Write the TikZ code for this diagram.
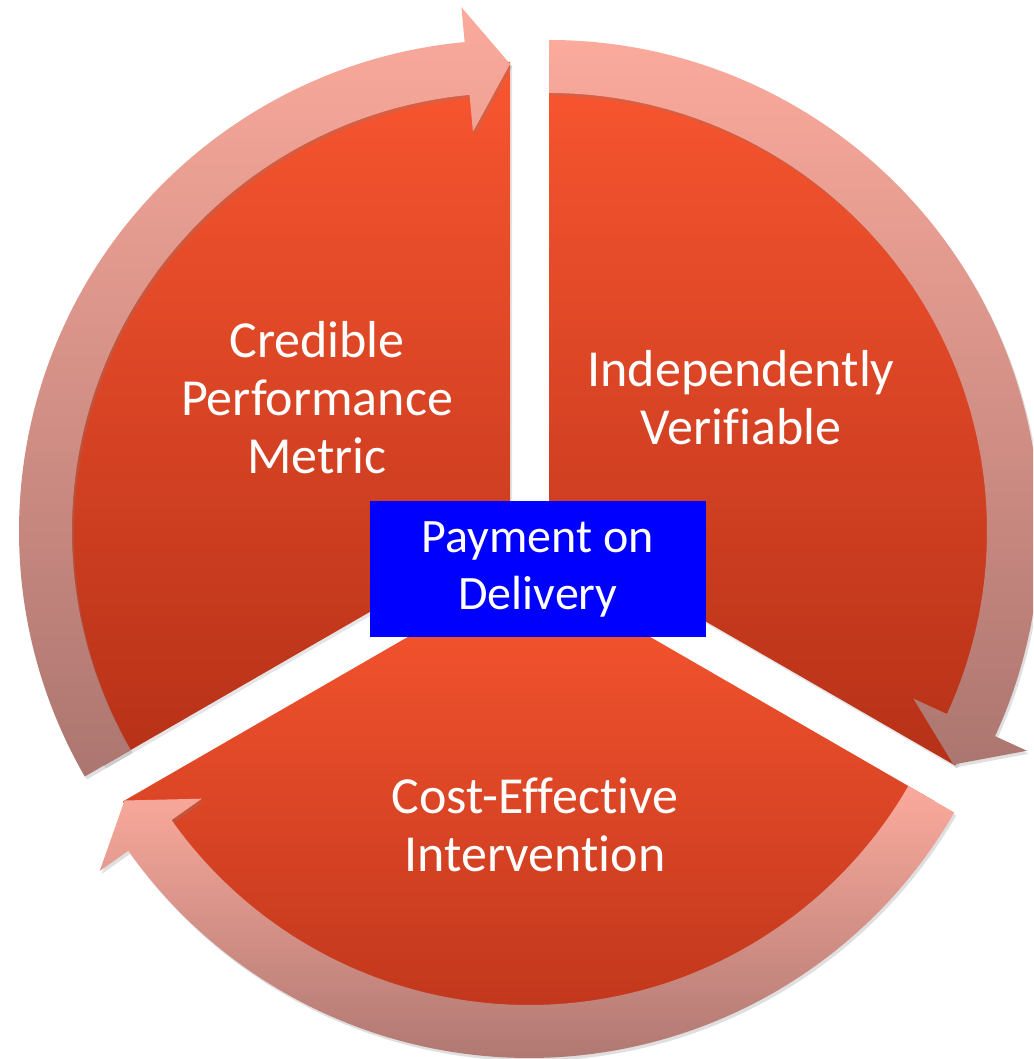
\documentclass[tikz,border=0pt]{standalone}
\usepackage{fontspec}
\setmainfont{Carlito}[Ligatures=NoCommon]
\usetikzlibrary{shadows}

\definecolor{segtop}{RGB}{249,86,48}
\definecolor{segbot}{RGB}{182,49,24}
\definecolor{bandtop}{RGB}{251,170,156}
\definecolor{bandbot}{RGB}{172,118,112}

\begin{document}
\begin{tikzpicture}[x=1pt, y=1pt,
    seg/.style={top color=segtop, bottom color=segbot, drop shadow={shadow xshift=2pt, shadow yshift=-3pt, opacity=0.2}},
    band/.style={top color=bandtop, bottom color=bandbot, drop shadow={shadow xshift=2pt, shadow yshift=-3pt, opacity=0.25}},
    lbl/.style={text=white, align=center, font=\fontsize{52}{58}\selectfont},
    hub/.style={fill=blue, text=white, align=center, inner sep=0pt, minimum width=336pt, minimum height=136pt, font=\fontsize{48}{57}\selectfont}]
    \fill[white] (0,0) rectangle (1033,1059);
    \clip (0,0) rectangle (1033,1059);

    % corners of the three slices
    \coordinate (lefthub) at (510,528);
    \coordinate (righthub) at (549,528);
    \coordinate (lowhub) at (529,492);

    \path[seg] (lefthub) -- ++(90:469) arc[start angle=90, end angle=210, radius=469] -- cycle;
    \path[seg] (righthub) -- ++(-30:469) arc[start angle=-30, end angle=90, radius=469] -- cycle;
    \path[seg] (lowhub) -- ++(210:469) arc[start angle=210, end angle=330, radius=469] -- cycle;

    % curved arrows round the rim
    \begin{scope}[shift={(lefthub)}]
    \path[band] (210:438) arc[start angle=210, end angle=95.3, radius=438] -- (95.3:401) -- (90:467) -- (95.3:526) -- (95.3:491) arc[start angle=95.3, end angle=210, radius=491] -- cycle;
    \end{scope}
    \begin{scope}[shift={(righthub)}]
    \path[band] (90:438) arc[start angle=90, end angle=-24.7, radius=438] -- (-24.7:401) -- (-30:467) -- (-24.7:526) -- (-24.7:491) arc[start angle=-24.7, end angle=90, radius=491] -- cycle;
    \end{scope}
    \begin{scope}[shift={(lowhub)}]
    \path[band] (-30:438) arc[start angle=-30, end angle=-144.7, radius=438] -- (-144.7:401) -- (-150:467) -- (-144.7:526) -- (-144.7:491) arc[start angle=-144.7, end angle=-30, radius=491] -- cycle;
    \end{scope}

    \node[lbl] (metric) at (317,661) {Credible\\Performance\\Metric};
    \node[lbl] (verify) at (741,661) {Independently\\Verifiable};
    \node[lbl] (cost) at (535,234) {Cost-Effective\\Intervention};
    \node[hub] (pod) at (538,490) {Payment on\\Delivery};
\end{tikzpicture}
\end{document}
